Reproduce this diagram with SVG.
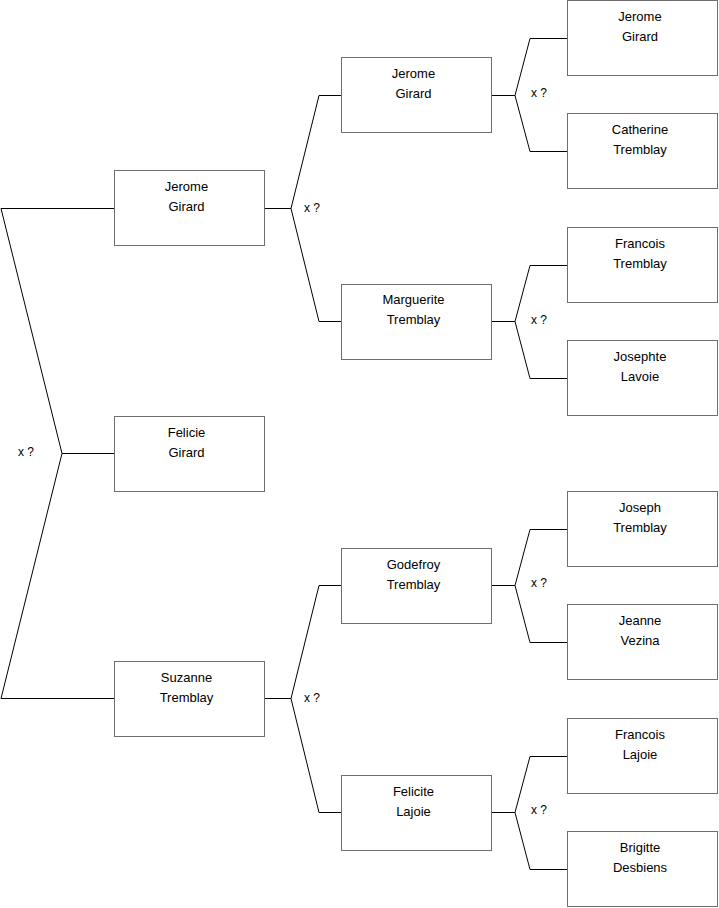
<svg xmlns="http://www.w3.org/2000/svg" width="719" height="908" viewBox="0 0 719 908">
<style>
.box{fill:#fff;stroke:#6e6e6e;stroke-width:1}
.t{font-family:"Liberation Sans",Arial,sans-serif;font-size:13px;fill:#000;text-anchor:middle}
.l{font-family:"Liberation Sans",Arial,sans-serif;font-size:12px;fill:#000}
.c{fill:none;stroke:#000;stroke-width:1}
</style>
<rect width="719" height="908" fill="#fff"/>
<g id="connectors">
<polyline class="c" points="114,208.5 1,208.5 62,453.5 1,698.5 114,698.5"/>
<line class="c" x1="62" y1="453.5" x2="114" y2="453.5"/>
<text class="l" x="18" y="456">x ?</text>
<polyline class="c" points="265,208.5 291,208.5"/>
<polyline class="c" points="341,95.5 319,95.5 291,208.5 319,321.5 341,321.5"/>
<text class="l" x="304" y="212">x ?</text>
<polyline class="c" points="265,698.5 291,698.5"/>
<polyline class="c" points="341,585.5 319,585.5 291,698.5 319,812.5 341,812.5"/>
<text class="l" x="304" y="702">x ?</text>
<polyline class="c" points="492,95.5 515,95.5"/>
<polyline class="c" points="567,38.5 530,38.5 515,95.5 530,151.5 567,151.5"/>
<text class="l" x="531" y="97">x ?</text>
<polyline class="c" points="492,321.5 515,321.5"/>
<polyline class="c" points="567,265.5 530,265.5 515,321.5 530,378.5 567,378.5"/>
<text class="l" x="531" y="324">x ?</text>
<polyline class="c" points="492,585.5 515,585.5"/>
<polyline class="c" points="567,529.5 530,529.5 515,585.5 530,642.5 567,642.5"/>
<text class="l" x="531" y="587">x ?</text>
<polyline class="c" points="492,812.5 515,812.5"/>
<polyline class="c" points="567,756.5 530,756.5 515,812.5 530,869.5 567,869.5"/>
<text class="l" x="531" y="814">x ?</text>
</g>
<g id="n1"><rect class="box" x="114.5" y="170.5" width="150" height="75"/><text class="t" x="186.5" y="191">Jerome</text><text class="t" x="186.5" y="211">Girard</text></g>
<g id="n2"><rect class="box" x="114.5" y="416.5" width="150" height="75"/><text class="t" x="186.5" y="437">Felicie</text><text class="t" x="186.5" y="457">Girard</text></g>
<g id="n3"><rect class="box" x="114.5" y="661.5" width="150" height="75"/><text class="t" x="186.5" y="682">Suzanne</text><text class="t" x="186.5" y="702">Tremblay</text></g>
<g id="n4"><rect class="box" x="341.5" y="57.5" width="150" height="75"/><text class="t" x="413.5" y="78">Jerome</text><text class="t" x="413.5" y="98">Girard</text></g>
<g id="n5"><rect class="box" x="341.5" y="284.5" width="150" height="75"/><text class="t" x="413.5" y="304">Marguerite</text><text class="t" x="413.5" y="324">Tremblay</text></g>
<g id="n6"><rect class="box" x="341.5" y="548.5" width="150" height="75"/><text class="t" x="413.5" y="569">Godefroy</text><text class="t" x="413.5" y="589">Tremblay</text></g>
<g id="n7"><rect class="box" x="341.5" y="775.5" width="150" height="75"/><text class="t" x="413.5" y="796">Felicite</text><text class="t" x="413.5" y="816">Lajoie</text></g>
<g id="n8"><rect class="box" x="567.5" y="0.5" width="150" height="75"/><text class="t" x="640" y="21">Jerome</text><text class="t" x="640" y="41">Girard</text></g>
<g id="n9"><rect class="box" x="567.5" y="113.5" width="150" height="75"/><text class="t" x="640" y="134">Catherine</text><text class="t" x="640" y="154">Tremblay</text></g>
<g id="n10"><rect class="box" x="567.5" y="227.5" width="150" height="75"/><text class="t" x="640" y="248">Francois</text><text class="t" x="640" y="268">Tremblay</text></g>
<g id="n11"><rect class="box" x="567.5" y="340.5" width="150" height="75"/><text class="t" x="640" y="361">Josephte</text><text class="t" x="640" y="381">Lavoie</text></g>
<g id="n12"><rect class="box" x="567.5" y="491.5" width="150" height="75"/><text class="t" x="640" y="512">Joseph</text><text class="t" x="640" y="532">Tremblay</text></g>
<g id="n13"><rect class="box" x="567.5" y="604.5" width="150" height="75"/><text class="t" x="640" y="625">Jeanne</text><text class="t" x="640" y="645">Vezina</text></g>
<g id="n14"><rect class="box" x="567.5" y="718.5" width="150" height="75"/><text class="t" x="640" y="739">Francois</text><text class="t" x="640" y="759">Lajoie</text></g>
<g id="n15"><rect class="box" x="567.5" y="831.5" width="150" height="75"/><text class="t" x="640" y="852">Brigitte</text><text class="t" x="640" y="872">Desbiens</text></g>
</svg>
